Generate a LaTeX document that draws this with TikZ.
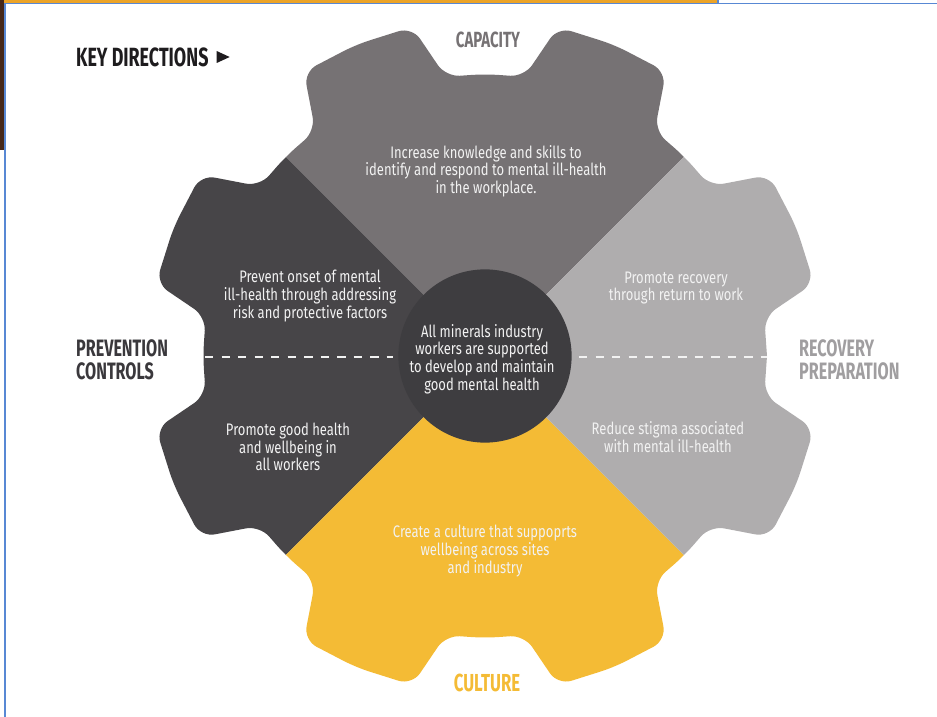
\documentclass[tikz,border=0pt]{standalone}
\usepackage{fontspec}
\setmainfont{Fira Sans}[FakeStretch=0.78]
\newfontfamily\headfont{Fira Sans}[FakeStretch=0.68]

\definecolor{capgrey}{RGB}{118,114,116}
\definecolor{prevdark}{RGB}{71,69,72}
\definecolor{recgrey}{RGB}{175,173,174}
\definecolor{cultyellow}{RGB}{244,187,53}
\definecolor{hubdark}{RGB}{62,61,64}
\definecolor{aimwhite}{RGB}{242,242,242}
\definecolor{rechead}{RGB}{160,158,160}
\definecolor{prevhead}{RGB}{58,56,60}
\definecolor{keyblack}{RGB}{30,28,30}
\definecolor{barorange}{RGB}{236,164,40}
\definecolor{barbrown}{RGB}{70,40,25}
\definecolor{frameblue}{RGB}{88,136,212}

\begin{document}
\begin{tikzpicture}[x=0.02cm,y=0.02cm,
  aimtext/.style={text=aimwhite, align=center, font=\fontsize{9.5}{10}\selectfont},
  sectorhead/.style={font=\headfont\bfseries\fontsize{13.5}{13}\selectfont, align=left},
  hub/.style={circle, fill=hubdark, minimum size=98.6pt, inner sep=0pt}]

\useasboundingbox (-485,-361) rectangle (452,356);

% window edge of the screenshot
\fill[barorange] (-485,356) rectangle (233,353);
\fill[barbrown] (-485,356) rectangle (-481,206);
\draw[frameblue, line width=0.7pt] (-480,-361) -- (-480,352.5) -- (452,352.5);
\draw[frameblue, line width=0.7pt] (233,356) -- (233,352.5);

% the four coloured quarters of the gear
\foreach \from/\col in {45/capgrey,135/prevdark,225/cultyellow,-45/recgrey}
{
  \begin{scope}
    \clip (0,0) -- (\from:520) -- (\from+90:520) -- cycle;
    \fill[\col, rounded corners=8pt] (0:282)
      \foreach \a in {22.5,67.5,...,337.5}
      { -- (\a-14.5:282) -- (\a-10:337) -- (\a:337) -- (\a+10:337)
        -- (\a+14.5:282) -- (\a+22.5:282) };
  \end{scope}
}

% dashed splits
\draw[aimwhite, line width=1.2pt, dash pattern=on 4.8pt off 4.6pt] (-280,-1) -- (-92,-1);
\draw[aimwhite, line width=1.2pt, dash pattern=on 4.8pt off 4.6pt] (94,-1) -- (282,-1);

\node[hub] (hub) at (0,0) {};
\node[aimtext] (hubtext) at (-3,-3) {All minerals industry\\workers are supported\\to develop and maintain\\good mental health};

% key directions
\node[aimtext] (capaim) at (1,185) {Increase knowledge and skills to\\identify and respond to mental ill-health\\in the workplace.};
\node[aimtext] (prevaim) at (-175,60) {Prevent onset of mental\\ill-health through addressing\\risk and protective factors};
\node[aimtext] (wellaim) at (-197,-91) {Promote good health\\and wellbeing in\\all workers};
\node[aimtext] (recaim) at (191,68) {Promote recovery\\through return to work};
\node[aimtext] (stigaim) at (183,-81) {Reduce stigma associated\\with mental ill-health};
\node[aimtext] (cultaim) at (0,-195) {Create a culture that suppoprts\\wellbeing across sites\\and industry};

% headings
\node[sectorhead, text=keyblack, anchor=west, font=\headfont\bfseries\fontsize{15}{15}\selectfont] (keydir) at (-415,299) {KEY DIRECTIONS};
\fill[keyblack] (keydir.east) ++(2,6) -- ++(13,-6) -- ++(-13,-6) -- cycle;
\node[sectorhead, text=capgrey, font=\headfont\bfseries\fontsize{12.5}{12}\selectfont] (capacity) at (3,316) {CAPACITY};
\node[sectorhead, text=prevhead, anchor=west] (prevention) at (-415,-3.5) {PREVENTION\\CONTROLS};
\node[sectorhead, text=rechead, anchor=west] (recovery) at (308,-3.5) {RECOVERY\\PREPARATION};
\node[sectorhead, text=cultyellow, font=\headfont\bfseries\fontsize{14}{14}\selectfont] (culture) at (2,-327) {CULTURE};

\end{tikzpicture}
\end{document}
